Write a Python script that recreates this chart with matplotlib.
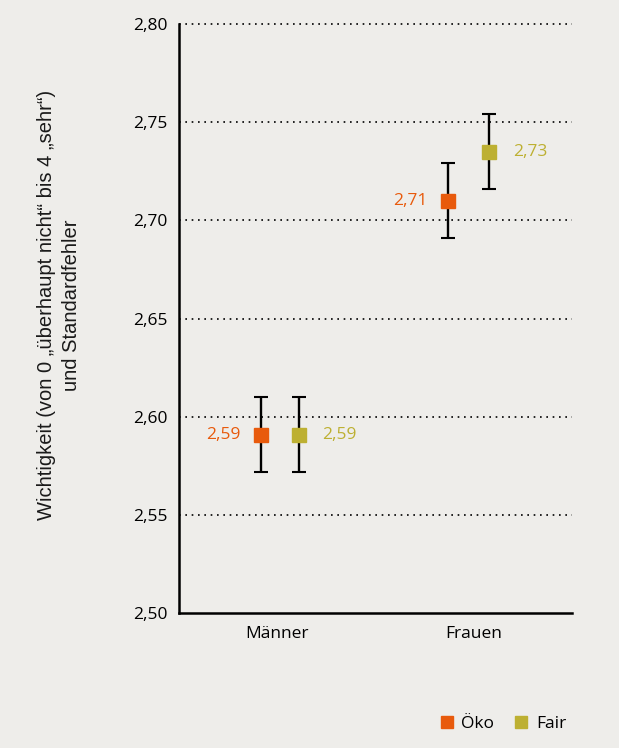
import numpy as np
import matplotlib.pyplot as plt

plt.rcParams['font.family'] = ['Open Sans', 'DejaVu Sans']

# Daten
gruppen = ['Männer', 'Frauen']
oeko = [2.591, 2.710]
fair = [2.591, 2.735]
oeko_se = [0.019, 0.019]
fair_se = [0.019, 0.019]
oeko_txt = ['2,59', '2,71']
fair_txt = ['2,59', '2,73']
yticks = [2.50, 2.55, 2.60, 2.65, 2.70, 2.75, 2.80]

ORANGE = '#E85A0C'
OLIV = '#BDB032'
BG = '#EEEDEA'

fig = plt.figure(figsize=(6.19, 7.48), dpi=100, facecolor=BG)
ax = fig.add_axes([0.289, 0.180, 0.635, 0.788], facecolor=BG)

x = np.arange(len(gruppen)) + 0.5
dx = np.array([-0.08, -0.13])
dx2 = np.array([0.11, 0.08])

ax.errorbar(x + dx, oeko, yerr=oeko_se, fmt='none', ecolor='black', elinewidth=1.7,
            capsize=5, capthick=1.5, zorder=3)
ax.errorbar(x + dx2, fair, yerr=fair_se, fmt='none', ecolor='black', elinewidth=1.7,
            capsize=5, capthick=1.5, zorder=3)
ax.plot(x + dx, oeko, 's', color=ORANGE, markersize=10, zorder=4, label='Öko')
ax.plot(x + dx2, fair, 's', color=OLIV, markersize=10, zorder=4, label='Fair')

for xi, v, t in zip(x + dx, oeko, oeko_txt):
    ax.annotate(t, (xi, v), xytext=(-15, 0), textcoords='offset points',
                ha='right', va='center', color=ORANGE, fontsize=12.5)
for xi, v, t in zip(x + dx2, fair, fair_txt):
    ax.annotate(t, (xi, v), xytext=(17, 0), textcoords='offset points',
                ha='left', va='center', color=OLIV, fontsize=12.5)

ax.set_xlim(0, 2)
ax.set_ylim(2.50, 2.80)
ax.set_xticks(x)
ax.set_xticklabels(gruppen, fontsize=12.5)
ax.set_yticks(yticks)
ax.set_yticklabels([f'{t:.2f}'.replace('.', ',') for t in yticks], fontsize=12.5)
ax.tick_params(length=0, pad=8)
ax.tick_params(axis='x', pad=9)

for t in yticks[1:]:
    ax.axhline(t, color='black', linestyle=(0, (1, 2.8)), linewidth=1.2, zorder=1,
               clip_on=False)

for s in ['top', 'right']:
    ax.spines[s].set_visible(False)
ax.spines['left'].set_linewidth(1.8)
ax.spines['bottom'].set_linewidth(1.8)

ax.set_ylabel('Wichtigkeit (von 0 „überhaupt nicht“ bis 4 „sehr“)\nund Standardfehler',
              fontsize=14.5, family=['Liberation Sans', 'DejaVu Sans'],
              linespacing=1.35, color='#1a1a1a')
ax.yaxis.set_label_coords(-0.25, 0.523)

fig.legend(loc='lower right', bbox_to_anchor=(0.94, 0.0), ncol=2, frameon=False,
           fontsize=12.5, handlelength=0.7, handletextpad=0.5, columnspacing=1.2,
           markerscale=0.9)

fig.savefig('out.png', dpi=100, facecolor=BG)
